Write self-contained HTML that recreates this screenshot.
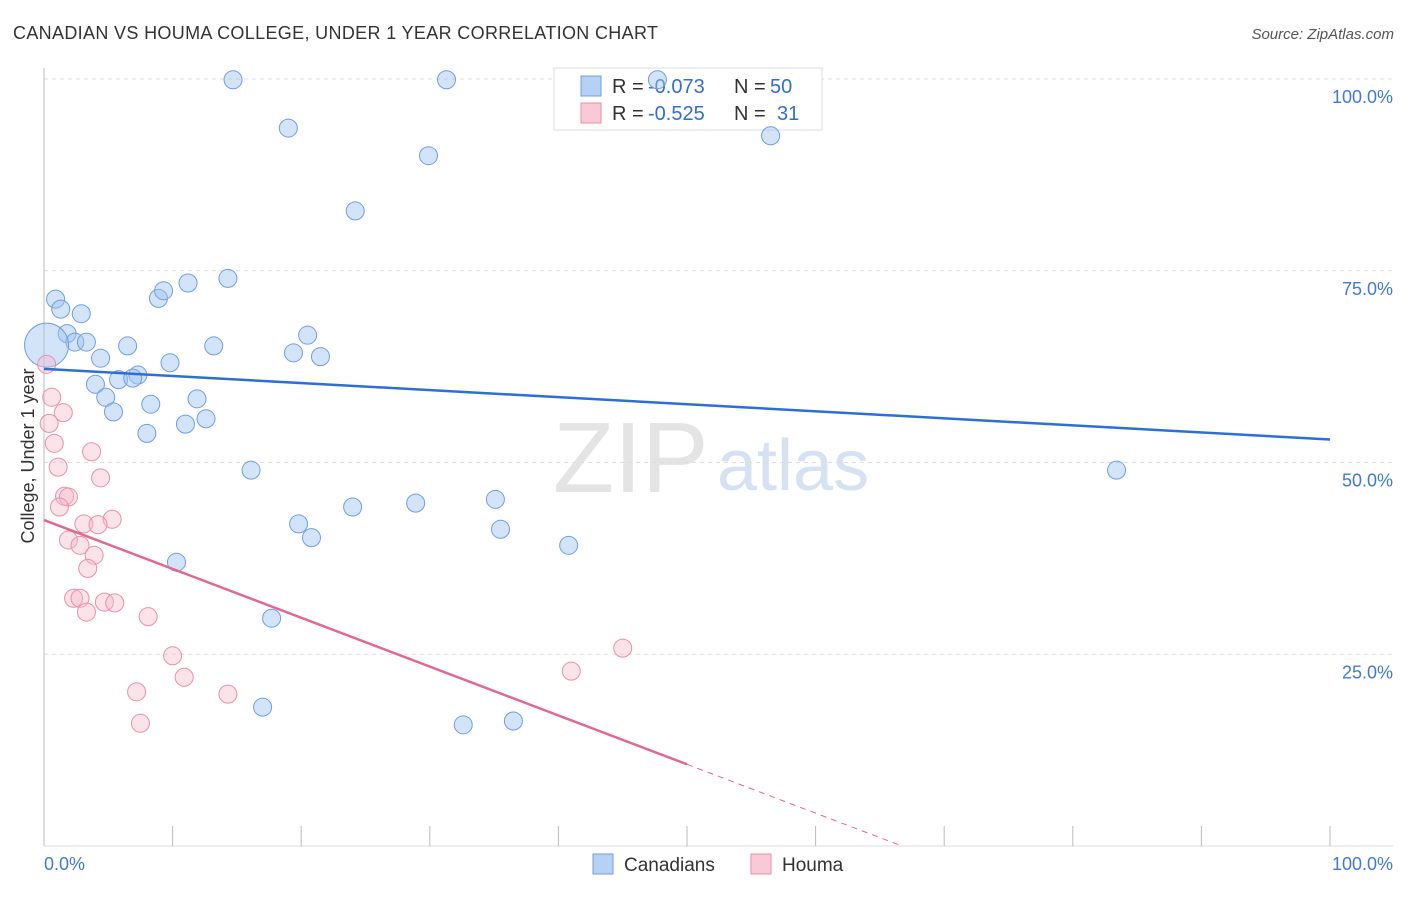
<!DOCTYPE html>
<html><head><meta charset="utf-8"><style>
body{margin:0;background:#fff;font-family:"Liberation Sans",sans-serif}
svg text{font-family:"Liberation Sans",sans-serif}
</style></head><body>
<svg id="chart" width="1406" height="892" viewBox="0 0 1406 892">
<text x="13" y="39" font-size="18" fill="#333" textLength="645" lengthAdjust="spacing">CANADIAN VS HOUMA COLLEGE, UNDER 1 YEAR CORRELATION CHART</text>
<text x="1394" y="39" font-size="15" fill="#555" text-anchor="end" font-style="italic">Source: ZipAtlas.com</text>
<g>
<text x="553" y="492" font-size="100" fill="#e4e4e4" font-family="Liberation Serif,serif">ZIP</text>
<text x="717" y="490" font-size="72" fill="#d6e2f2">atlas</text>
</g>
<g id="grid"></g>
<g>
<rect x="554" y="68" width="268" height="62" fill="#fff" stroke="#ddd"/>
<rect x="581" y="76" width="20" height="20" fill="#b7d1f5" stroke="#6f9ee0"/>
<text x="612" y="93" font-size="20" fill="#333">R =</text>
<text x="648" y="93" font-size="20" fill="#2f6fd6">-0.073</text>
<text x="734" y="93" font-size="20" fill="#333">N =</text>
<text x="770" y="93" font-size="20" fill="#2f6fd6">50</text>
<rect x="581" y="103" width="20" height="20" fill="#f9c9d7" stroke="#e890aa"/>
<text x="612" y="120" font-size="20" fill="#333">R =</text>
<text x="648" y="120" font-size="20" fill="#2f6fd6">-0.525</text>
<text x="734" y="120" font-size="20" fill="#333">N =</text>
<text x="777" y="120" font-size="20" fill="#2f6fd6">31</text>
</g>
<g id="marks"></g>
<text transform="translate(34,456) rotate(-90)" font-size="18" fill="#333" text-anchor="middle">College, Under 1 year</text>
<g>
<rect x="593" y="854" width="20" height="20" fill="#b7d1f5" stroke="#6f9ee0"/>
<text x="624" y="871" font-size="19" fill="#333">Canadians</text>
<rect x="751" y="854" width="20" height="20" fill="#f9c9d7" stroke="#e890aa"/>
<text x="782" y="871" font-size="19" fill="#333">Houma</text>
</g>
</svg>
<script>
const yTicks=[100,75,50,25];
const yTickLabels=["100.0%","75.0%","50.0%","25.0%"];
const xTicks=[0,10,20,30,40,50,60,70,80,90,100];
const xTickLabels=["0.0%","100.0%"];
const canX=[14.7,31.3,47.7,19.0,29.9,56.5,24.2,0.9,1.3,2.9,1.8,2.4,3.3,8.9,9.3,11.2,14.3,6.5,13.2,4.4,19.4,20.5,21.5,9.8,7.3,5.8,6.9,4.0,4.8,8.3,11.9,5.4,8.0,11.0,12.6,16.1,83.4,24.0,28.9,35.1,19.8,20.8,35.5,40.8,10.3,17.7,17.0,32.6,36.5,0.2];
const canY=[99.9,99.9,99.9,93.6,90.0,92.6,82.8,71.3,70.0,69.4,66.8,65.7,65.7,71.4,72.4,73.4,74.0,65.2,65.2,63.6,64.3,66.6,63.8,63.0,61.4,60.8,61.0,60.2,58.5,57.6,58.3,56.6,53.8,55.0,55.7,49.0,49.0,44.2,44.7,45.2,42.0,40.2,41.3,39.2,37.0,29.7,18.1,15.8,16.3,65.3];
const houX=[0.2,0.6,1.5,0.4,0.8,1.1,3.7,4.4,1.6,1.9,1.2,5.3,3.1,4.2,1.9,2.8,3.9,3.4,2.3,2.8,3.3,4.7,5.5,8.1,10.0,10.9,14.3,7.2,7.5,41.0,45.0];
const houY=[62.8,58.5,56.5,55.1,52.5,49.4,51.4,48.0,45.6,45.5,44.2,42.6,42.0,41.9,39.9,39.2,37.9,36.2,32.3,32.3,30.5,31.8,31.7,29.9,24.8,22.0,19.8,20.1,16.0,22.8,25.8];
const canTrend=[62.2,53.0];
const houTrend=[42.5,-0.637];
const NS="http://www.w3.org/2000/svg";
const sx=v=>44+v*12.86, sy=v=>846-v*7.67;
function mk(t,a,p){const e=document.createElementNS(NS,t);for(const k in a)e.setAttribute(k,a[k]);(p||document.getElementById('marks')).appendChild(e);return e;}
const g=document.getElementById('grid');
yTicks.forEach((v,i)=>{
 const l=mk('line',{x1:44,x2:1393,y1:sy(v),y2:sy(v),stroke:'#ddd','stroke-dasharray':'4,4'},g);
 
 
 const t=mk('text',{x:1393,y:sy(v)+24,'font-size':18,fill:'#3f7ad8','text-anchor':'end'},g);t.textContent=yTickLabels[i];
 
 
});
const ax=mk('line',{x1:44,x2:44,y1:68,y2:846,stroke:'#bbb'},g);


const bx=mk('line',{x1:44,x2:1393,y1:846,y2:846,stroke:'#ddd'},g);


xTicks.forEach(v=>{const l=mk('line',{x1:sx(v),x2:sx(v),y1:826,y2:846,stroke:'#bbb'},g);
 
 });
[[0,'start'],[100,'end']].forEach((d,i)=>{const t=mk('text',{x:i?1393:44,y:870,'font-size':18,fill:'#3f7ad8','text-anchor':d[1]},g);t.textContent=xTickLabels[i];
 
 });
canX.forEach((x,i)=>{const c=mk('circle',{cx:sx(x),cy:sy(canY[i]),r:i==canX.length-1?22:9,fill:'rgba(160,195,240,0.45)',stroke:'#6f9ee0','stroke-width':1});
 
 });
houX.forEach((x,i)=>{const c=mk('circle',{cx:sx(x),cy:sy(houY[i]),r:9,fill:'rgba(246,184,203,0.4)',stroke:'#e890aa','stroke-width':1});
 
 });
const bl=mk('line',{x1:sx(0),y1:sy(canTrend[0]),x2:sx(100),y2:sy(canTrend[1]),stroke:'#2c6fd6','stroke-width':2.5});


const hy=x=>houTrend[0]+houTrend[1]*x;
const pl=mk('line',{x1:sx(0),y1:sy(hy(0)),x2:sx(50),y2:sy(hy(50)),stroke:'#e3688f','stroke-width':2.5});


const xe=-houTrend[0]/houTrend[1];
const pd=mk('line',{x1:sx(50),y1:sy(hy(50)),x2:sx(xe),y2:sy(0),stroke:'#e3688f','stroke-width':1,'stroke-dasharray':'6,5'});


</script>
</body></html>
